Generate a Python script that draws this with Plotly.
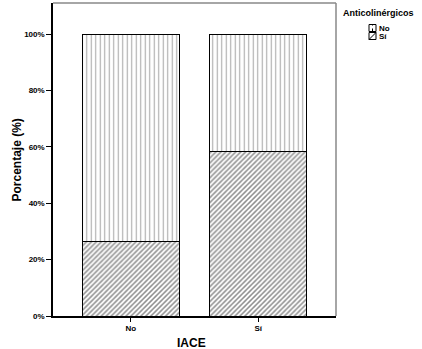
import plotly.graph_objects as go

categories = ["No", "Sí"]
si_values = [26.5, 58.4]
no_values = [73.5, 41.6]
y_ticks = [0, 20, 40, 60, 80, 100]
y_ticklabels = ["0%", "20%", "40%", "60%", "80%", "100%"]

FONT = "Liberation Sans"

fig = go.Figure()
fig.add_trace(go.Bar(
    x=categories, y=si_values, name="Sí", width=0.76,
    marker=dict(color="white", line=dict(color="black", width=1),
                pattern=dict(shape="/", fgcolor="#222222", bgcolor="white",
                             size=3.5, solidity=0.45)),
    showlegend=False,
))
fig.add_trace(go.Bar(
    x=categories, y=no_values, name="No", width=0.76,
    marker=dict(color="white", line=dict(color="black", width=1),
                pattern=dict(shape="|", fgcolor="#555555", bgcolor="white",
                             size=4.5, solidity=0.25)),
    showlegend=False,
))

fig.update_layout(
    barmode="stack",
    width=422, height=349,
    margin=dict(l=53, r=86, t=3, b=33),
    paper_bgcolor="white", plot_bgcolor="white",
    font=dict(family=FONT, color="black"),
)
fig.update_xaxes(
    range=[-0.61, 1.61], showgrid=False, zeroline=False,
    showline=True, linecolor="black", linewidth=1.5,
    ticks="outside", ticklen=4, tickcolor="black",
    tickfont=dict(size=8, weight="bold", family=FONT),
    automargin=False,
)
fig.update_yaxes(
    range=[0, 111], showgrid=False, zeroline=False,
    showline=True, linecolor="black", linewidth=1.5,
    ticks="outside", ticklen=5, tickcolor="black",
    tickvals=y_ticks, ticktext=y_ticklabels,
    tickfont=dict(size=8, weight="bold", family=FONT),
    automargin=False,
)

# frame (top and right)
fig.add_shape(type="line", xref="paper", yref="paper", x0=0, x1=1, y0=1, y1=1,
              line=dict(color="#888888", width=1.5))
fig.add_shape(type="line", xref="paper", yref="paper", x0=1, x1=1, y0=0, y1=1,
              line=dict(color="#888888", width=1.5))

# axis titles
fig.add_annotation(text="Porcentaje (%)", xref="paper", yref="paper",
                   x=-37/283, y=0.5, textangle=-90, showarrow=False,
                   xanchor="center", yanchor="middle",
                   font=dict(size=12, weight="bold", family=FONT))
fig.add_annotation(text="IACE", xref="paper", yref="paper",
                   x=0.49, y=-27/313, showarrow=False,
                   xanchor="center", yanchor="middle",
                   font=dict(size=12, weight="bold", family=FONT))

# custom legend
fig.add_annotation(text="Anticolinérgicos", xref="paper", yref="paper",
                   x=(341-53)/283, y=(316-13)/313, showarrow=False,
                   xanchor="left", yanchor="middle",
                   font=dict(size=9, weight="bold", family=FONT))
legend_items = [("No", 28), ("Sí", 36)]
for label, yy in legend_items:
    x0 = (369-53)/283
    x1 = (376-53)/283
    y0 = (316-(yy+3.5))/313
    y1 = (316-(yy-3.5))/313
    fig.add_shape(type="rect", xref="paper", yref="paper", x0=x0, x1=x1, y0=y0, y1=y1,
                  line=dict(color="black", width=1), fillcolor="white")
    if label == "Sí":
        fig.add_shape(type="line", xref="paper", yref="paper", x0=x0, x1=x1, y0=y0, y1=y1,
                      line=dict(color="black", width=1))
    else:
        fig.add_shape(type="line", xref="paper", yref="paper", x0=(x0+x1)/2, x1=(x0+x1)/2, y0=y0, y1=y1,
                      line=dict(color="black", width=1, dash="dot"))
    fig.add_annotation(text=label, xref="paper", yref="paper",
                       x=(376.5-53)/283, y=(316-yy)/313, showarrow=False,
                       xanchor="left", yanchor="middle",
                       font=dict(size=8, weight="bold", family=FONT))

fig.write_html("out.html")
